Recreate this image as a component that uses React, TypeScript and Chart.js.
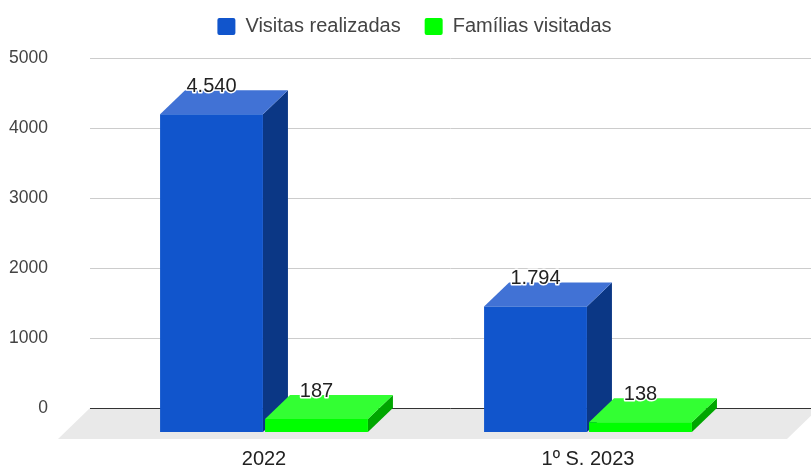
import React, { useEffect, useRef } from "react";
import { Chart, registerables } from "chart.js";

Chart.register(...registerables);

const categories = ["2022", "1º S. 2023"];
const visitasRealizadas = [4540, 1794];
const familiasVisitadas = [187, 138];
const yTicks = [0, 1000, 2000, 3000, 4000, 5000];

const FONT = "'Liberation Sans', Arial, sans-serif";
const DEPTH_X = 25;
const DEPTH_Y = 24;
const GRID_LEFT = 90;
const FLOOR_LEFT = 58;
const FLOOR_RIGHT = 787;
const PLOT_TOP = 58;
const PLOT_BOTTOM = 408;

const faces = [
  { side: "#0b3785", top: "#4172d5" },
  { side: "#00a600", top: "#33ff33" },
];

const fmt = (v: number) => String(v).replace(/\B(?=(\d{3})+$)/g, ".");

const poly = (ctx: CanvasRenderingContext2D, pts: number[][], fill: string) => {
  ctx.beginPath();
  pts.forEach(([x, y], i) => (i ? ctx.lineTo(x, y) : ctx.moveTo(x, y)));
  ctx.closePath();
  ctx.fillStyle = fill;
  ctx.fill();
};

const bar3d = {
  id: "bar3d",
  afterLayout(chart: any) {
    const { x, y } = chart.scales;
    y.top = PLOT_TOP;
    y.bottom = PLOT_BOTTOM;
    y.height = PLOT_BOTTOM - PLOT_TOP;
    y.configure();
    x.top = PLOT_BOTTOM;
    x.bottom = chart.height;
    x.height = chart.height - PLOT_BOTTOM;
    chart.chartArea.top = PLOT_TOP;
    chart.chartArea.bottom = PLOT_BOTTOM;
    chart.chartArea.height = PLOT_BOTTOM - PLOT_TOP;
    // place the legend where the reference has it
    chart.legend.left += 39.5;
    chart.legend.right += 39.5;
    chart.legend.top -= 18;
  },
  beforeDatasetsDraw(chart: any) {
    const { ctx, scales, width } = chart;
    const y = scales.y;
    const zero = y.getPixelForValue(0);
    ctx.save();
    poly(
      ctx,
      [
        [GRID_LEFT, zero],
        [FLOOR_RIGHT + 32, zero],
        [FLOOR_RIGHT, zero + 31],
        [FLOOR_LEFT, zero + 31],
      ],
      "#e9e9e9"
    );
    yTicks.forEach((t) => {
      const py = Math.round(y.getPixelForValue(t)) + 0.5;
      ctx.beginPath();
      ctx.moveTo(GRID_LEFT, py);
      ctx.lineTo(width, py);
      ctx.lineWidth = 1;
      ctx.strokeStyle = t === 0 ? "#333333" : "#cccccc";
      ctx.stroke();
    });
    chart.data.datasets.forEach((_: any, i: number) => {
      chart.getDatasetMeta(i).data.forEach((el: any) => {
        const l = el.x - el.width / 2;
        const r = el.x + el.width / 2;
        const top = el.y + DEPTH_Y;
        const bottom = el.base + DEPTH_Y;
        poly(ctx, [[r, top], [r + DEPTH_X, top - DEPTH_Y], [r + DEPTH_X, bottom - DEPTH_Y], [r, bottom]], faces[i].side);
        poly(ctx, [[l, top], [l + DEPTH_X, top - DEPTH_Y], [r + DEPTH_X, top - DEPTH_Y], [r, top]], faces[i].top);
      });
    });
    ctx.restore();
  },
  beforeDatasetDraw(chart: any) {
    chart.ctx.save();
    chart.ctx.translate(0, DEPTH_Y);
  },
  afterDatasetDraw(chart: any) {
    chart.ctx.restore();
  },
  afterDatasetsDraw(chart: any) {
    const { ctx } = chart;
    ctx.save();
    ctx.font = `20px ${FONT}`;
    ctx.textAlign = "center";
    ctx.textBaseline = "middle";
    ctx.lineJoin = "round";
    chart.data.datasets.forEach((ds: any, i: number) => {
      chart.getDatasetMeta(i).data.forEach((el: any, j: number) => {
        const text = fmt(ds.data[j]);
        const py = el.y - 3.5;
        ctx.lineWidth = 3;
        ctx.strokeStyle = "#ffffff";
        ctx.strokeText(text, el.x, py);
        ctx.fillStyle = "#222222";
        ctx.fillText(text, el.x, py);
      });
    });
    ctx.restore();
  },
};

export default function App() {
  const ref = useRef<HTMLCanvasElement>(null);
  useEffect(() => {
    const chart = new Chart(ref.current as HTMLCanvasElement, {
      type: "bar",
      data: {
        labels: categories,
        datasets: [
          { label: "Visitas realizadas", data: visitasRealizadas, backgroundColor: "#1155cc", clip: false as any },
          { label: "Famílias visitadas", data: familiasVisitadas, backgroundColor: "#00ff00", clip: false as any },
        ],
      },
      options: {
        animation: false,
        responsive: false,
        datasets: { bar: { categoryPercentage: 0.648, barPercentage: 0.98 } },
        layout: { padding: { top: 0, left: 0, right: 61, bottom: 0 } },
        plugins: {
          tooltip: { enabled: false },
          legend: {
            position: "top",
            labels: {
              boxWidth: 18,
              boxHeight: 17,
              padding: 24,
              color: "#444444",
              useBorderRadius: true,
              borderRadius: 2,
              font: { family: FONT, size: 20 },
            },
          },
        },
        scales: {
          x: {
            grid: { display: false, drawTicks: false },
            border: { display: false },
            afterFit: (s: any) => {
              s.height = 58;
            },
            ticks: { color: "#222222", padding: 39, font: { family: FONT, size: 20 }, maxRotation: 0 },
          },
          y: {
            min: 0,
            max: 5000,
            grid: { display: false, drawTicks: false },
            border: { display: false },
            afterFit: (s: any) => {
              s.width = 102;
            },
            afterBuildTicks: (s: any) => {
              s.ticks = yTicks.map((value) => ({ value }));
            },
            ticks: {
              color: "#444444",
              padding: 54,
              font: { family: FONT, size: 17.5 },
              callback: (v: any) => String(v),
            },
          },
        },
      },
      plugins: [bar3d as any],
    });
    return () => chart.destroy();
  }, []);
  return (
    <canvas
      ref={ref}
      width={811}
      height={466}
      style={{ position: "absolute", left: 0, top: 0, width: 811, height: 466 }}
    />
  );
}
